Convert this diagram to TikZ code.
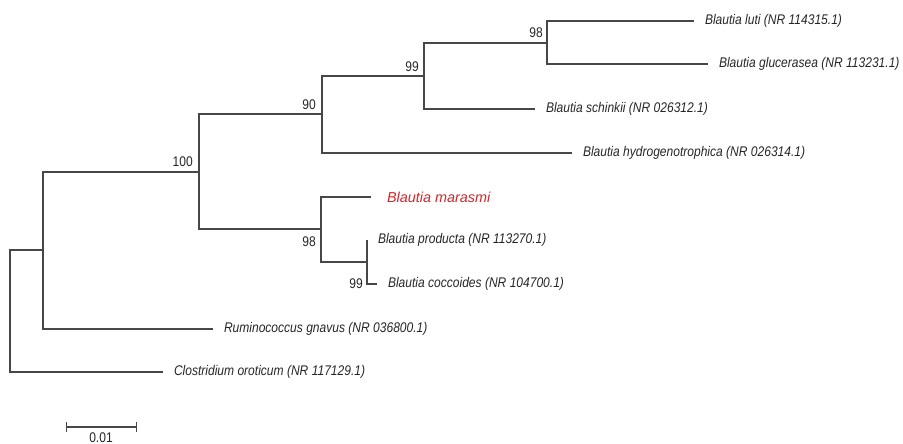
\documentclass[tikz,border=0pt]{standalone}
\usepackage{fontspec}
\setmainfont{Liberation Sans}[FakeStretch=0.86]
\newfontfamily\plainsans{Liberation Sans}
\usetikzlibrary{arrows.meta,positioning,calc}
\definecolor{marared}{RGB}{212,36,40}

\begin{document}
\begin{tikzpicture}[x=1pt,y=-1pt,font=\fontsize{14}{16}\selectfont,
  br/.style={line width=1.2pt,draw=black!72},
  lf/.style={anchor=west,inner xsep=11pt,inner ysep=0pt,outer sep=0pt,font=\fontsize{14}{16}\selectfont\itshape,text=black!85},
  bs/.style={anchor=east,inner sep=0pt,text=black!85},
  sbar/.style={line width=1.2pt,draw=black!72,{Bar[width=10pt]}-{Bar[width=10pt]}}]
\useasboundingbox (0,0) rectangle (903,444);
\coordinate (root) at (10,311);
\coordinate (nA)   at (43,250);
\coordinate (n100) at (199,172);
\coordinate (n90)  at (322,114);
\coordinate (n99a) at (424,76);
\coordinate (n98a) at (547,43);
\coordinate (n98b) at (321,229);
\coordinate (n99b) at (367,262);
\node[lf](luti)  at(694,21){Blautia luti (NR 114315.1)};
\node[lf](gluc)  at(708,64){Blautia glucerasea (NR 113231.1)};
\node[lf](schin) at(535,109){Blautia schinkii (NR 026312.1)};
\node[lf](hydro) at(572,153){Blautia hydrogenotrophica (NR 026314.1)};
\node[lf,inner xsep=16pt,text=marared,font=\plainsans\fontsize{14.4}{16}\selectfont\itshape](maras) at(371,197){Blautia marasmi};
\node[lf](prod)  at(367,240){Blautia producta (NR 113270.1)};
\node[lf](cocc)  at(377,284){Blautia coccoides (NR 104700.1)};
\node[lf](rumin) at(213,329){Ruminococcus gnavus (NR 036800.1)};
\node[lf](clost) at(163,372){Clostridium oroticum (NR 117129.1)};
\draw[br](root)|-(nA);
\draw[br](root)|-(clost.west);
\draw[br](nA)|-(n100);
\draw[br](nA)|-(rumin.west);
\draw[br](n100)|-(n90);
\draw[br](n100)|-(n98b);
\draw[br](n90)|-(n99a);
\draw[br](n90)|-(hydro.west);
\draw[br](n99a)|-(n98a);
\draw[br](n99a)|-(schin.west);
\draw[br](n98a)|-(luti.west);
\draw[br](n98a)|-(gluc.west);
\draw[br](n98b)|-(maras.west);
\draw[br](n98b)|-(n99b);
\draw[br](n99b)|-(prod.west);
\draw[br](n99b)|-(cocc.west);
\node[bs](b100) at($(n100)+(-6,-10)$){100};
\node[bs](b90)  at($(n90)+(-6,-9)$){90};
\node[bs](b99a) at($(n99a)+(-5,-9)$){99};
\node[bs](b98a) at($(n98a)+(-4,-10)$){98};
\node[bs](b98b) at($(n98b)+(-5,12.5)$){98};
\node[bs](b99b) at($(n99b)+(-4,21.5)$){99};
\coordinate (sb1) at (66,427);
\coordinate (sb2) at (137,427);
\draw[sbar](sb1)--(sb2);
\node[text=black!85,inner sep=0pt](sbl) at(101,438){0.01};
\end{tikzpicture}
\end{document}
